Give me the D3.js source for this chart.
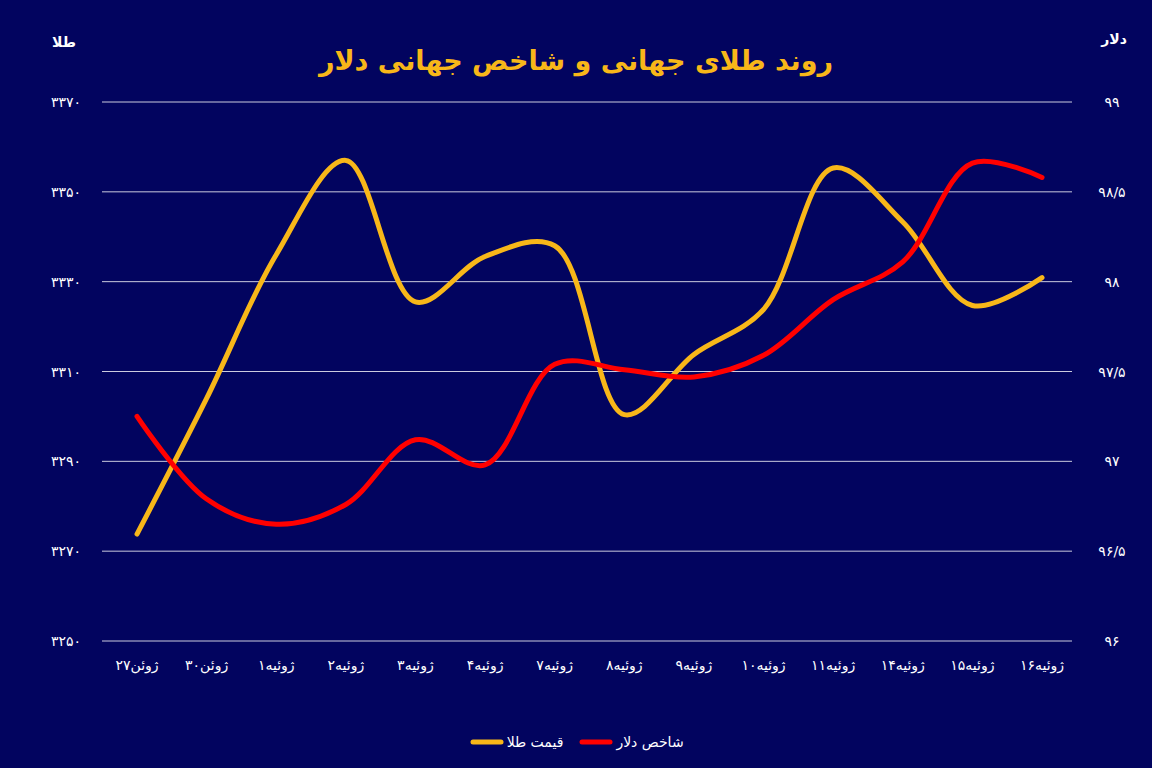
<!DOCTYPE html><html><head><meta charset="utf-8">
<script src="https://cdn.jsdelivr.net/npm/d3@7"></script>
<style>body{margin:0;background:#02045f}svg{display:block}text{font-family:"DejaVu Sans","Noto Sans",sans-serif}</style>
</head><body><svg id="c" width="1152" height="768"></svg>
<script>
const categories=["۲۷ژوئن","۳۰ژوئن","۱ژوئیه","۲ژوئیه","۳ژوئیه","۴ژوئیه","۷ژوئیه","۸ژوئیه","۹ژوئیه","۱۰ژوئیه","۱۱ژوئیه","۱۴ژوئیه","۱۵ژوئیه","۱۶ژوئیه"];
const gold=[3273.8,3304,3336,3357,3325.5,3335.6,3338,3300.4,3313.8,3323.8,3355.3,3343.3,3324.7,3330.9];
const dollar=[97.25,96.79,96.65,96.76,97.12,96.98,97.54,97.51,97.47,97.59,97.9,98.11,98.66,98.58];
const leftTicks=[3250,3270,3290,3310,3330,3350,3370];
const rightTicks=[96,96.5,97,97.5,98,98.5,99];
const fa=s=>String(s).replace(/\./g,"/").replace(/\d/g,d=>"۰۱۲۳۴۵۶۷۸۹"[d]);
const svg=d3.select("#c");
const x=d3.scalePoint().domain(categories).range([137,1042]);
const yL=d3.scaleLinear().domain([3250,3370]).range([641,102]);
const yR=d3.scaleLinear().domain([96,99]).range([641,102]);
svg.append("g").selectAll("line").data(leftTicks).join("line")
 .attr("x1",102).attr("x2",1072).attr("y1",d=>yL(d)).attr("y2",d=>yL(d)).attr("stroke","#fff").attr("stroke-width",0.8);
svg.append("g").selectAll("text").data(leftTicks).join("text").attr("x",66).attr("y",d=>yL(d)+5)
 .attr("text-anchor","middle").attr("fill","#fff").attr("font-size",14).text(fa);
svg.append("g").selectAll("text").data(rightTicks).join("text").attr("x",1112).attr("y",d=>yR(d)+5)
 .attr("text-anchor","middle").attr("fill","#fff").attr("font-size",14).text(fa);
categories.forEach(c=>{
  const m=c.match(/^([۰-۹]+)(.*)$/);
  const g=svg.append("g");
  const num=g.append("text").attr("y",670).attr("fill","#fff").attr("font-size",14).text(m[1]);
  const word=g.append("text").attr("y",670).attr("fill","#fff").attr("font-size",14).text(m[2]);
  const wn=num.node().getComputedTextLength(), ww=word.node().getComputedTextLength();
  const left=x(c)-(wn+ww)/2;
  num.attr("x",left); word.attr("x",left+wn);
});
svg.append("text").attr("x",64).attr("y",47).attr("text-anchor","middle").attr("fill","#fff").attr("font-size",14).attr("font-weight","bold").text("طلا");
svg.append("text").attr("x",1114).attr("y",44).attr("text-anchor","middle").attr("fill","#fff").attr("font-size",14).attr("font-weight","bold").text("دلار");
svg.append("text").attr("x",576).attr("y",70).attr("text-anchor","middle").attr("fill","#f8b719").attr("font-size",27).attr("font-weight","bold").text("روند طلای جهانی و شاخص جهانی دلار");
const line=d3.line().curve(d3.curveCatmullRom.alpha(0.5));
svg.append("path").attr("d",line(categories.map((c,i)=>[x(c),yL(gold[i])]))).attr("fill","none").attr("stroke","#f8b719").attr("stroke-width",5).attr("stroke-linecap","round");
svg.append("path").attr("d",line(categories.map((c,i)=>[x(c),yR(dollar[i])]))).attr("fill","none").attr("stroke","#ff0000").attr("stroke-width",5).attr("stroke-linecap","round");
const lg=svg.append("g");
lg.append("line").attr("x1",582).attr("x2",610).attr("y1",742).attr("y2",742).attr("stroke","#ff0000").attr("stroke-width",5).attr("stroke-linecap","round");
lg.append("text").attr("x",650).attr("y",747).attr("text-anchor","middle").attr("fill","#fff").attr("font-size",14).text("شاخص دلار");
lg.append("line").attr("x1",473).attr("x2",501).attr("y1",742).attr("y2",742).attr("stroke","#f8b719").attr("stroke-width",5).attr("stroke-linecap","round");
lg.append("text").attr("x",535).attr("y",747).attr("text-anchor","middle").attr("fill","#fff").attr("font-size",14).text("قیمت طلا");
</script></body></html>
